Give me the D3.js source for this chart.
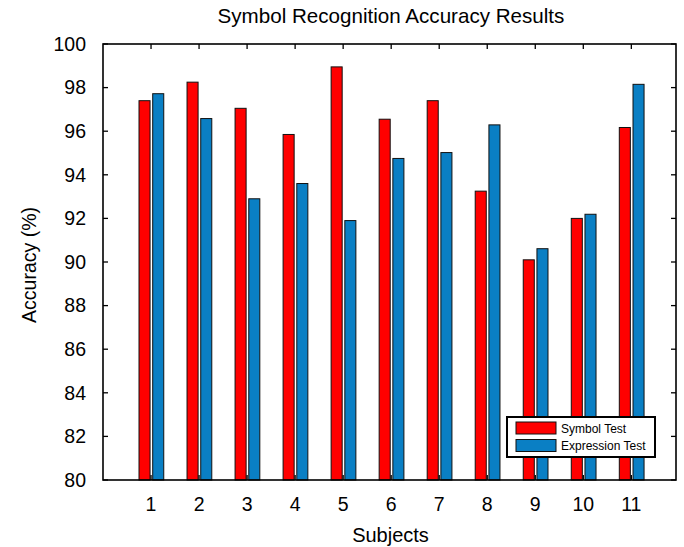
<!DOCTYPE html>
<html><head><meta charset="utf-8">
<script src="https://cdn.jsdelivr.net/npm/d3@7"></script>
<style>body{margin:0;background:#fff}</style>
</head><body>
<script>
const subjects = [1,2,3,4,5,6,7,8,9,10,11];
const symbolTest = [97.4,98.25,97.05,95.85,98.95,96.55,97.4,93.25,90.1,92.0,96.17];
const expressionTest = [97.72,96.58,92.9,93.6,91.9,94.75,95.02,96.29,90.61,92.19,98.15];
const yTicks = [80,82,84,86,88,90,92,94,96,98,100];
const seriesNames = ["Symbol Test","Expression Test"];
const colors = ["#ff0000","#0a7fc4"];

const W=684,H=547;
const L=103,R=676,T=44,B=480;
const svg=d3.select("body").append("svg").attr("width",W).attr("height",H)
  .style("font-family","'Liberation Sans', Arial, sans-serif");
const x=d3.scaleLinear().domain([0,11.93]).range([L,R]);
const y=d3.scaleLinear().domain([80,100]).range([B,T]);
const bw=x(0.23)-x(0);

const g=svg.append("g");
subjects.forEach((s,i)=>{
  [symbolTest[i],expressionTest[i]].forEach((v,k)=>{
    const cx = k===0 ? x(s)-6.5 : x(s)+7.2;
    g.append("rect").attr("x",cx-bw/2).attr("y",y(v)).attr("width",bw).attr("height",y(80)-y(v))
      .attr("fill",colors[k]).attr("stroke","#111").attr("stroke-width",1);
  });
});

// axes
const tl=5;
const ax=svg.append("g").attr("stroke","#000").attr("stroke-width",1.3);
subjects.forEach(s=>{
  ax.append("line").attr("x1",x(s)).attr("x2",x(s)).attr("y1",B).attr("y2",B-tl);
  ax.append("line").attr("x1",x(s)).attr("x2",x(s)).attr("y1",T).attr("y2",T+tl);
});
yTicks.forEach(t=>{
  ax.append("line").attr("x1",L).attr("x2",L+tl).attr("y1",y(t)).attr("y2",y(t));
  ax.append("line").attr("x1",R).attr("x2",R-tl).attr("y1",y(t)).attr("y2",y(t));
});
svg.append("rect").attr("x",L).attr("y",T).attr("width",R-L).attr("height",B-T)
  .attr("fill","none").attr("stroke","#000").attr("stroke-width",1.6);

subjects.forEach(s=>{
  svg.append("text").attr("x",x(s)).attr("y",511).attr("text-anchor","middle")
    .attr("font-size",19.5).text(s);
});
yTicks.forEach(t=>{
  svg.append("text").attr("x",L-17).attr("y",y(t)+6.8).attr("text-anchor","end")
    .attr("font-size",19.5).text(t);
});
svg.append("text").attr("x",390.5).attr("y",541.5).attr("text-anchor","middle").attr("font-size",20).text("Subjects");
svg.append("text").attr("transform",`translate(36,265) rotate(-90)`).attr("text-anchor","middle").attr("font-size",19.5).text("Accuracy (%)");
svg.append("text").attr("x",391).attr("y",23.3).attr("text-anchor","middle").attr("font-size",20.6).text("Symbol Recognition Accuracy Results");

// legend
const lg=svg.append("g");
lg.append("rect").attr("x",507).attr("y",417).attr("width",148).attr("height",40)
  .attr("fill","#fff").attr("stroke","#000").attr("stroke-width",2);
seriesNames.forEach((n,k)=>{
  const yy=422+k*17.5;
  lg.append("rect").attr("x",516).attr("y",yy).attr("width",40).attr("height",12)
    .attr("fill",colors[k]).attr("stroke","#111").attr("stroke-width",1);
  lg.append("text").attr("x",561).attr("y",yy+10.5).attr("font-size",12).text(n);
});
</script>
</body></html>
